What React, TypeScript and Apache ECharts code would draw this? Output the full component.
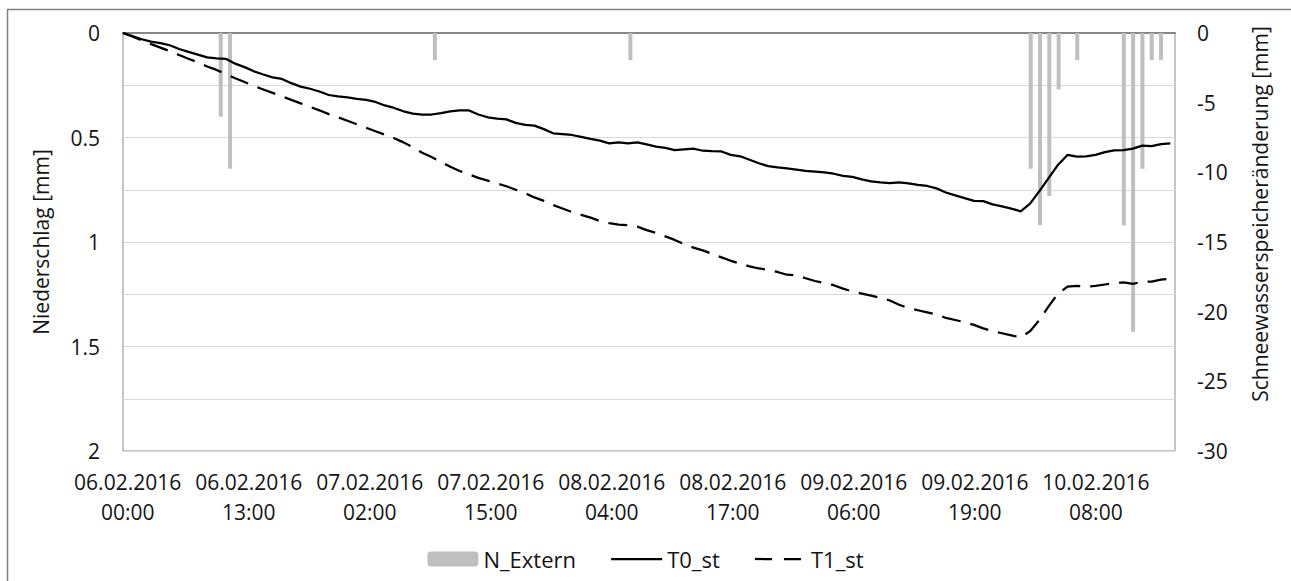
import React, { useEffect, useRef } from "react";
import * as echarts from "echarts";

// Hourly categories from 06.02.2016 00:00 (113 hours)
const START_DAY = 6;
const HOUR_COUNT = 113;
const pad = (n: number) => (n < 10 ? "0" + n : "" + n);
const categories: string[] = Array.from({ length: HOUR_COUNT }, (_, h) => {
  const day = START_DAY + Math.floor(h / 24);
  const hr = h % 24;
  return `${pad(day)}.02.2016\n${pad(hr)}:00`;
});

// N_Extern precipitation per hour [mm] (left axis, inverted)
const nExtern: number[] = [
  0, 0, 0, 0, 0, 0, 0, 0, 0, 0, 0.4, 0.65, 0, 0, 0, 0, 0, 0, 0, 0,
  0, 0, 0, 0, 0, 0, 0, 0, 0, 0, 0, 0, 0, 0.13, 0, 0, 0, 0, 0, 0,
  0, 0, 0, 0, 0, 0, 0, 0, 0, 0, 0, 0, 0, 0, 0.13, 0, 0, 0, 0, 0,
  0, 0, 0, 0, 0, 0, 0, 0, 0, 0, 0, 0, 0, 0, 0, 0, 0, 0, 0, 0,
  0, 0, 0, 0, 0, 0, 0, 0, 0, 0, 0, 0, 0, 0, 0, 0, 0, 0.65, 0.92, 0.78,
  0.27, 0, 0.13, 0, 0, 0, 0, 0.92, 1.43, 0.65, 0.13, 0.13, 0,
];

// T0_st snow water storage change [mm] (right axis)
const t0: number[] = [
  0, -0.22, -0.45, -0.62, -0.72, -0.88, -1.15, -1.35, -1.55, -1.75,
  -1.82, -1.85, -2.2, -2.45, -2.75, -2.98, -3.18, -3.3, -3.6, -3.85,
  -4.0, -4.2, -4.45, -4.55, -4.62, -4.72, -4.8, -4.95, -5.2, -5.38,
  -5.62, -5.78, -5.85, -5.85, -5.75, -5.62, -5.55, -5.56, -5.85, -6.05,
  -6.15, -6.2, -6.45, -6.6, -6.65, -6.9, -7.2, -7.25, -7.32, -7.45,
  -7.6, -7.72, -7.92, -7.85, -7.92, -7.85, -8.0, -8.15, -8.25, -8.4,
  -8.35, -8.3, -8.45, -8.48, -8.5, -8.75, -8.85, -9.1, -9.35, -9.55,
  -9.65, -9.72, -9.8, -9.9, -9.95, -10.0, -10.1, -10.25, -10.32, -10.5,
  -10.65, -10.72, -10.78, -10.72, -10.8, -10.9, -10.98, -11.15, -11.45, -11.65,
  -11.85, -12.05, -12.07, -12.3, -12.45, -12.6, -12.8, -12.25, -11.35, -10.4,
  -9.45, -8.75, -8.88, -8.85, -8.75, -8.55, -8.42, -8.4, -8.3, -8.08,
  -8.12, -7.98, -7.92,
];

// T1_st snow water storage change [mm] (right axis)
const t1: number[] = [
  0, -0.25, -0.52, -0.8, -1.05, -1.3, -1.58, -1.85, -2.1, -2.4,
  -2.65, -2.95, -3.25, -3.52, -3.8, -4.05, -4.3, -4.55, -4.8, -5.05,
  -5.3, -5.55, -5.82, -6.05, -6.3, -6.55, -6.8, -7.05, -7.3, -7.55,
  -7.85, -8.2, -8.6, -8.9, -9.25, -9.6, -9.9, -10.15, -10.4, -10.6,
  -10.8, -11.0, -11.25, -11.5, -11.8, -12.05, -12.35, -12.6, -12.85, -13.05,
  -13.25, -13.5, -13.65, -13.75, -13.8, -13.9, -14.15, -14.35, -14.6, -14.85,
  -15.15, -15.4, -15.6, -15.85, -16.1, -16.35, -16.55, -16.75, -16.9, -17.0,
  -17.15, -17.35, -17.4, -17.6, -17.8, -17.95, -18.1, -18.35, -18.55, -18.7,
  -18.85, -19.0, -19.2, -19.5, -19.75, -19.9, -20.05, -20.2, -20.45, -20.6,
  -20.75, -20.95, -21.2, -21.4, -21.55, -21.7, -21.85, -21.4, -20.6, -19.6,
  -18.7, -18.2, -18.15, -18.2, -18.15, -18.05, -17.95, -17.9, -18.0, -17.85,
  -17.85, -17.7, -17.65,
];

const leftTicks = [0, 0.5, 1, 1.5, 2];

const FONT = "'Open Sans', sans-serif";
const TXT = "#141414";

export default function App() {
  const ref = useRef<HTMLDivElement>(null);
  useEffect(() => {
    if (!ref.current) return;
    const chart = echarts.init(ref.current, undefined, { renderer: "svg" });
    chart.setOption({
      animation: false,
      backgroundColor: "#ffffff",
      textStyle: { fontFamily: FONT },
      graphic: [
        {
          type: "rect",
          shape: { x: 7.5, y: 9.5, width: 1320, height: 620 },
          style: { fill: "none", stroke: "#808080", lineWidth: 1.5 },
          silent: true,
        },
      ],
      grid: {
        left: 123,
        right: 116,
        top: 33,
        bottom: 130,
        show: true,
        borderColor: "#8c8c8c",
        borderWidth: 1,
        containLabel: false,
      },
      legend: {
        top: 543,
        left: "center",
        itemWidth: 51,
        itemHeight: 15,
        itemGap: 34,
        textStyle: { fontSize: 22, color: TXT, fontFamily: FONT },
        data: [
          { name: "N_Extern" },
          {
            name: "T0_st",
            itemStyle: { opacity: 0 },
            lineStyle: { color: "#000000", width: 2.25, type: "solid" },
          },
          {
            name: "T1_st",
            itemStyle: { opacity: 0 },
            lineStyle: { color: "#000000", width: 2.25, type: [17, 12] },
          },
        ],
      },
      xAxis: [
        {
          type: "category",
          data: categories,
          boundaryGap: true,
          axisLine: { show: true, lineStyle: { color: "#868686", width: 2 } },
          axisTick: { show: false },
          axisLabel: {
            interval: 12,
            fontSize: 21,
            lineHeight: 30,
            margin: 16,
            color: TXT,
            fontFamily: FONT,
          },
          splitLine: { show: false },
        },
        {
          type: "value",
          min: 0,
          max: 112.5,
          show: false,
          splitLine: { show: false },
        },
      ],
      yAxis: [
        {
          type: "value",
          inverse: true,
          min: 0,
          max: 2,
          interval: 0.25,
          name: "Niederschlag [mm]",
          nameLocation: "middle",
          nameRotate: 90,
          nameGap: 72,
          nameTextStyle: { fontSize: 21, color: TXT, fontFamily: FONT },
          axisLine: { show: false },
          axisTick: { show: false },
          axisLabel: {
            fontSize: 21,
            margin: 23,
            color: TXT,
            fontFamily: FONT,
            formatter: (v: number) =>
              leftTicks.some((t) => Math.abs(t - v) < 1e-6) ? String(v) : "",
          },
          splitLine: { show: true, lineStyle: { color: "#d9d9d9", width: 1 } },
        },
        {
          type: "value",
          position: "right",
          min: -30,
          max: 0,
          interval: 5,
          name: "Schneewasserspeicheränderung [mm]",
          nameLocation: "middle",
          nameRotate: 90,
          nameGap: 74,
          nameTextStyle: {
            fontSize: 21,
            color: TXT,
            fontFamily: FONT,
            padding: [0, 0, 0, 56],
          },
          axisLine: { show: false },
          axisTick: { show: false },
          axisLabel: { fontSize: 21, margin: 22, color: TXT, fontFamily: FONT },
          splitLine: { show: false },
        },
      ],
      series: [
        {
          name: "N_Extern",
          type: "bar",
          xAxisIndex: 0,
          yAxisIndex: 0,
          data: nExtern,
          barWidth: 4,
          itemStyle: { color: "#bfbfbf" },
        },
        {
          name: "T0_st",
          type: "line",
          xAxisIndex: 1,
          yAxisIndex: 1,
          data: t0.map((v, i) => [i, v]),
          symbol: "none",
          lineStyle: { color: "#000000", width: 2.25 },
          itemStyle: { color: "#000000" },
        },
        {
          name: "T1_st",
          type: "line",
          xAxisIndex: 1,
          yAxisIndex: 1,
          data: t1.map((v, i) => [i, v]),
          symbol: "none",
          lineStyle: { color: "#000000", width: 2.25, type: [19, 10] },
          itemStyle: { color: "#000000" },
        },
      ],
    });
    return () => chart.dispose();
  }, []);
  return (
    <div
      ref={ref}
      style={{ position: "absolute", left: 0, top: 0, width: 1291, height: 581 }}
    />
  );
}
